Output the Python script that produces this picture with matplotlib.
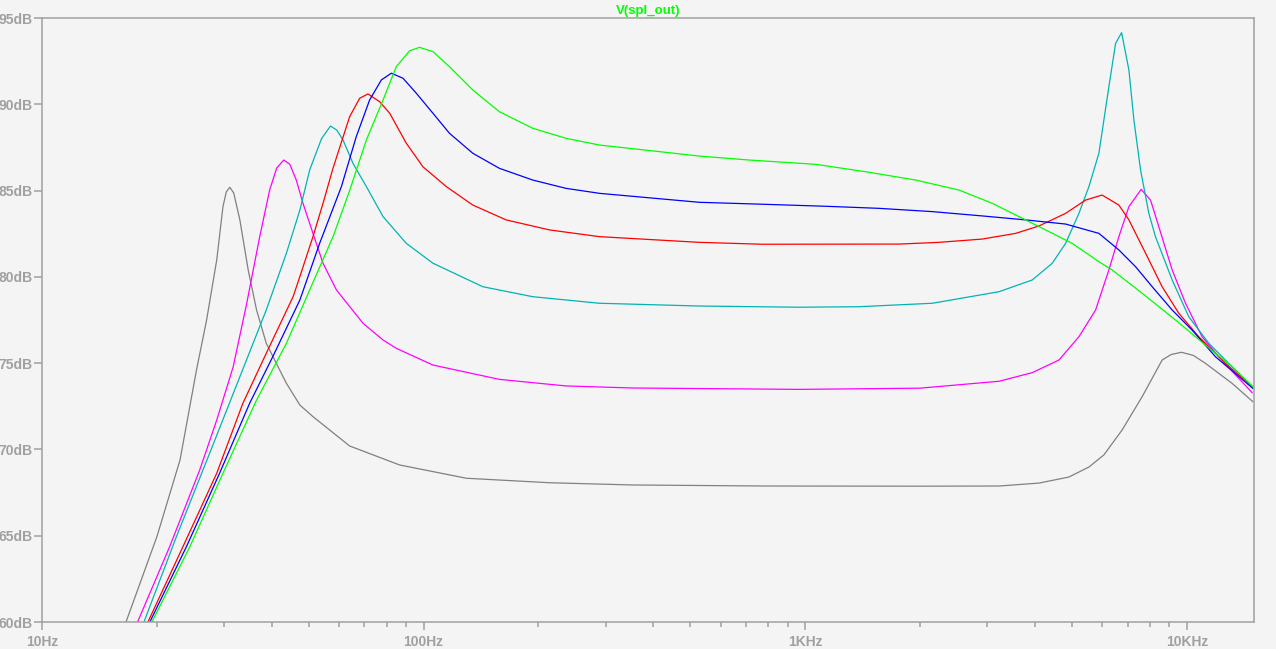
import matplotlib
matplotlib.use("Agg")
import matplotlib.pyplot as plt
from matplotlib.ticker import FixedLocator, FuncFormatter, NullFormatter

# traces, frequency in Hz, level in dB
gray_f = [16.6, 20.0, 23.0, 25.4, 27.0, 28.7, 29.8, 30.4, 31.05, 31.8, 33.0, 34.7, 36.5, 38.7, 43.7, 47.4, 51.3,
          64.0, 86.5, 129.4, 213.7, 353, 789, 2000, 3221, 4099, 4909, 5540, 6062, 6770, 7640, 8617,
          9100, 9683, 10400, 11190, 13140, 14890]
gray_db = [60.0, 64.94, 69.39, 74.6, 77.5, 80.98, 84.07, 84.92, 85.19, 84.86, 83.3, 80.4, 78.08, 76.15, 73.83, 72.57, 71.9,
           70.2, 69.1, 68.33, 68.07, 67.94, 67.88, 67.87, 67.88, 68.05, 68.4, 68.98, 69.68, 71.13, 73.06, 75.18,
           75.5, 75.63, 75.45, 74.99, 73.83, 72.77]

magenta_f = [17.8, 21.6, 25.9, 28.7, 31.7, 34.4, 37.2, 39.5, 41.2, 43.0, 44.6, 46.4, 48.3, 51.3, 54.5, 59.1, 69.4,
             78.3, 84.8, 105.8, 158, 236, 353, 964, 2000, 3221, 3936, 4624, 5216, 5768, 6249, 6637,
             7051, 7594, 8035, 8448, 9155, 9922, 10965, 12128, 14830]
magenta_db = [60.0, 64.36, 68.81, 71.7, 74.79, 78.47, 82.33, 85.03, 86.3, 86.77, 86.53, 85.6, 84.26, 82.52, 80.79, 79.24, 77.31,
              76.34, 75.86, 74.89, 74.06, 73.68, 73.56, 73.48, 73.55, 73.95, 74.45, 75.18, 76.53, 78.08, 80.4, 82.33,
              84.07, 85.07, 84.45, 82.9, 80.4, 78.47, 76.53, 75.37, 73.29]

cyan_f = [18.5, 22.5, 27.5, 33.0, 38.7, 43.7, 47.4, 50.3, 54.0, 57.0, 59.2, 61.5, 65.3, 70.8, 78.3, 90.1,
          105.8, 142.9, 193.2, 288.9, 528, 964, 1385, 2154, 3221, 3936, 4441, 4813, 5216, 5540, 5883,
          6249, 6507, 6748, 7051, 7267, 7566, 7953, 8277, 9155, 10120, 11420, 13140, 14890]
cyan_db = [60.0, 64.94, 69.78, 74.21, 78.08, 81.37, 83.87, 86.2, 88.0, 88.74, 88.51, 87.93, 86.58, 85.23, 83.49, 81.94,
           80.79, 79.43, 78.85, 78.47, 78.31, 78.24, 78.27, 78.47, 79.14, 79.82, 80.79, 81.94, 83.68, 85.23, 87.16,
           91.02, 93.53, 94.15, 91.99, 89.09, 86.19, 83.68, 82.33, 79.82, 77.69, 76.15, 74.79, 73.63]

red_f = [18.95, 23.4, 28.7, 33.6, 38.7, 45.5, 47.4, 51.3, 54.5, 57.9, 64.0, 68.0, 71.5, 76.7, 81.5,
         90.1, 99.6, 114.7, 134.6, 164.6, 213.7, 288.9, 528, 773, 1762, 2243, 2912, 3561, 4100, 4813,
         5430, 6001, 6637, 7051, 7798, 8617, 9528, 10750, 12630, 14890]
red_db = [60.0, 64.36, 68.62, 72.67, 75.57, 78.85, 80.02, 82.33, 84.26, 86.3, 89.28, 90.35, 90.6, 90.15, 89.48,
          87.74, 86.38, 85.23, 84.16, 83.3, 82.72, 82.33, 82.0, 81.89, 81.9, 82.0, 82.19, 82.52, 82.95, 83.68,
          84.45, 84.74, 84.16, 83.3, 81.37, 79.43, 77.89, 76.53, 74.99, 73.6]

blue_f = [19.17, 23.9, 29.2, 35.0, 40.3, 47.4, 53.4, 60.9, 66.6, 72.2, 77.5, 82.3, 88.3, 95.7, 105.8,
          116.9, 134.6, 158, 193.2, 236, 288.9, 528, 743, 1133, 1562, 2154, 2912, 3783, 4813, 5883,
          6637, 7340, 8115, 9155, 10320, 11890, 14890]
blue_db = [60.0, 64.36, 68.62, 72.67, 75.4, 78.66, 81.94, 85.23, 88.12, 90.25, 91.41, 91.8, 91.51, 90.64, 89.48,
           88.32, 87.16, 86.29, 85.61, 85.13, 84.84, 84.32, 84.22, 84.09, 83.97, 83.78, 83.53, 83.3, 83.06, 82.52,
           81.56, 80.59, 79.43, 78.08, 76.92, 75.37, 73.54]

green_f = [19.4, 24.4, 29.8, 36.5, 43.7, 49.3, 51.3, 55.6, 57.9, 64.0, 70.8, 78.3, 84.8, 91.9, 97.6,
           105.8, 116.9, 134.6, 158, 193.2, 236, 288.9, 528, 713, 1067, 1442, 1949, 2530, 3093, 3633,
           4266, 5009, 5883, 6375, 7640, 9341, 11190, 13140, 14890]
green_db = [60.0, 64.36, 68.62, 72.86, 76.15, 78.8, 79.68, 81.44, 82.33, 85.0, 87.93, 90.25, 92.18, 93.1, 93.3,
            93.05, 92.18, 90.83, 89.57, 88.61, 88.03, 87.64, 87.0, 86.77, 86.52, 86.09, 85.61, 85.03, 84.26, 83.49,
            82.72, 81.94, 80.88, 80.4, 79.05, 77.5, 76.05, 74.79, 73.63]

y_ticks = [60, 65, 70, 75, 80, 85, 90, 95]
x_ticks = [10, 100, 1000, 10000]
x_tick_labels = ["10Hz", "100Hz", "1KHz", "10KHz"]

bg = "#f4f4f4"
axis_col = "#a0a0a0"

fig = plt.figure(figsize=(12.76, 6.49), dpi=100, facecolor=bg)
ax = fig.add_axes([42 / 1276, 1 - 622 / 649, (1254 - 42) / 1276, (622 - 18) / 649])
ax.set_facecolor(bg)

traces = [(gray_f, gray_db, "#808080"),
          (magenta_f, magenta_db, "#ff00ff"),
          (cyan_f, cyan_db, "#00b4b4"),
          (red_f, red_db, "#ff0000"),
          (blue_f, blue_db, "#0000ff"),
          (green_f, green_db, "#00ff00")]
for f, db, c in traces:
    ax.plot(f, db, color=c, lw=0.9)

ax.set_xscale("log")
ax.set_xlim(10, 15000)
ax.set_ylim(60, 95)

for s in ax.spines.values():
    s.set_color(axis_col)
    s.set_linewidth(1.1)

ax.set_yticks(y_ticks)
ax.set_yticklabels([str(v) + "dB" for v in y_ticks])
ax.xaxis.set_major_locator(FixedLocator(x_ticks))
ax.xaxis.set_major_formatter(FuncFormatter(lambda v, p: x_tick_labels[x_ticks.index(int(round(v)))] if int(round(v)) in x_ticks else ""))
minor = [m * d for d in [10, 100, 1000] for m in range(2, 10)]
ax.xaxis.set_minor_locator(FixedLocator(minor))
ax.xaxis.set_minor_formatter(NullFormatter())

ax.tick_params(axis="both", which="major", direction="out", length=6, width=1.1,
               color=axis_col, labelcolor=axis_col, labelsize=10)
ax.tick_params(axis="x", which="minor", direction="out", length=3.5, width=1.1, color=axis_col)
ax.tick_params(axis="y", pad=1)
ax.tick_params(axis="x", pad=3)
for lab in ax.get_xticklabels() + ax.get_yticklabels():
    lab.set_fontweight("bold")
    lab.set_fontfamily("Liberation Sans")

ax.set_title("V(spl_out)", color="#00ff00", fontsize=9.5, fontweight="bold",
             fontfamily="Liberation Sans", pad=3)

fig.savefig("out.png", dpi=100, facecolor=bg)
